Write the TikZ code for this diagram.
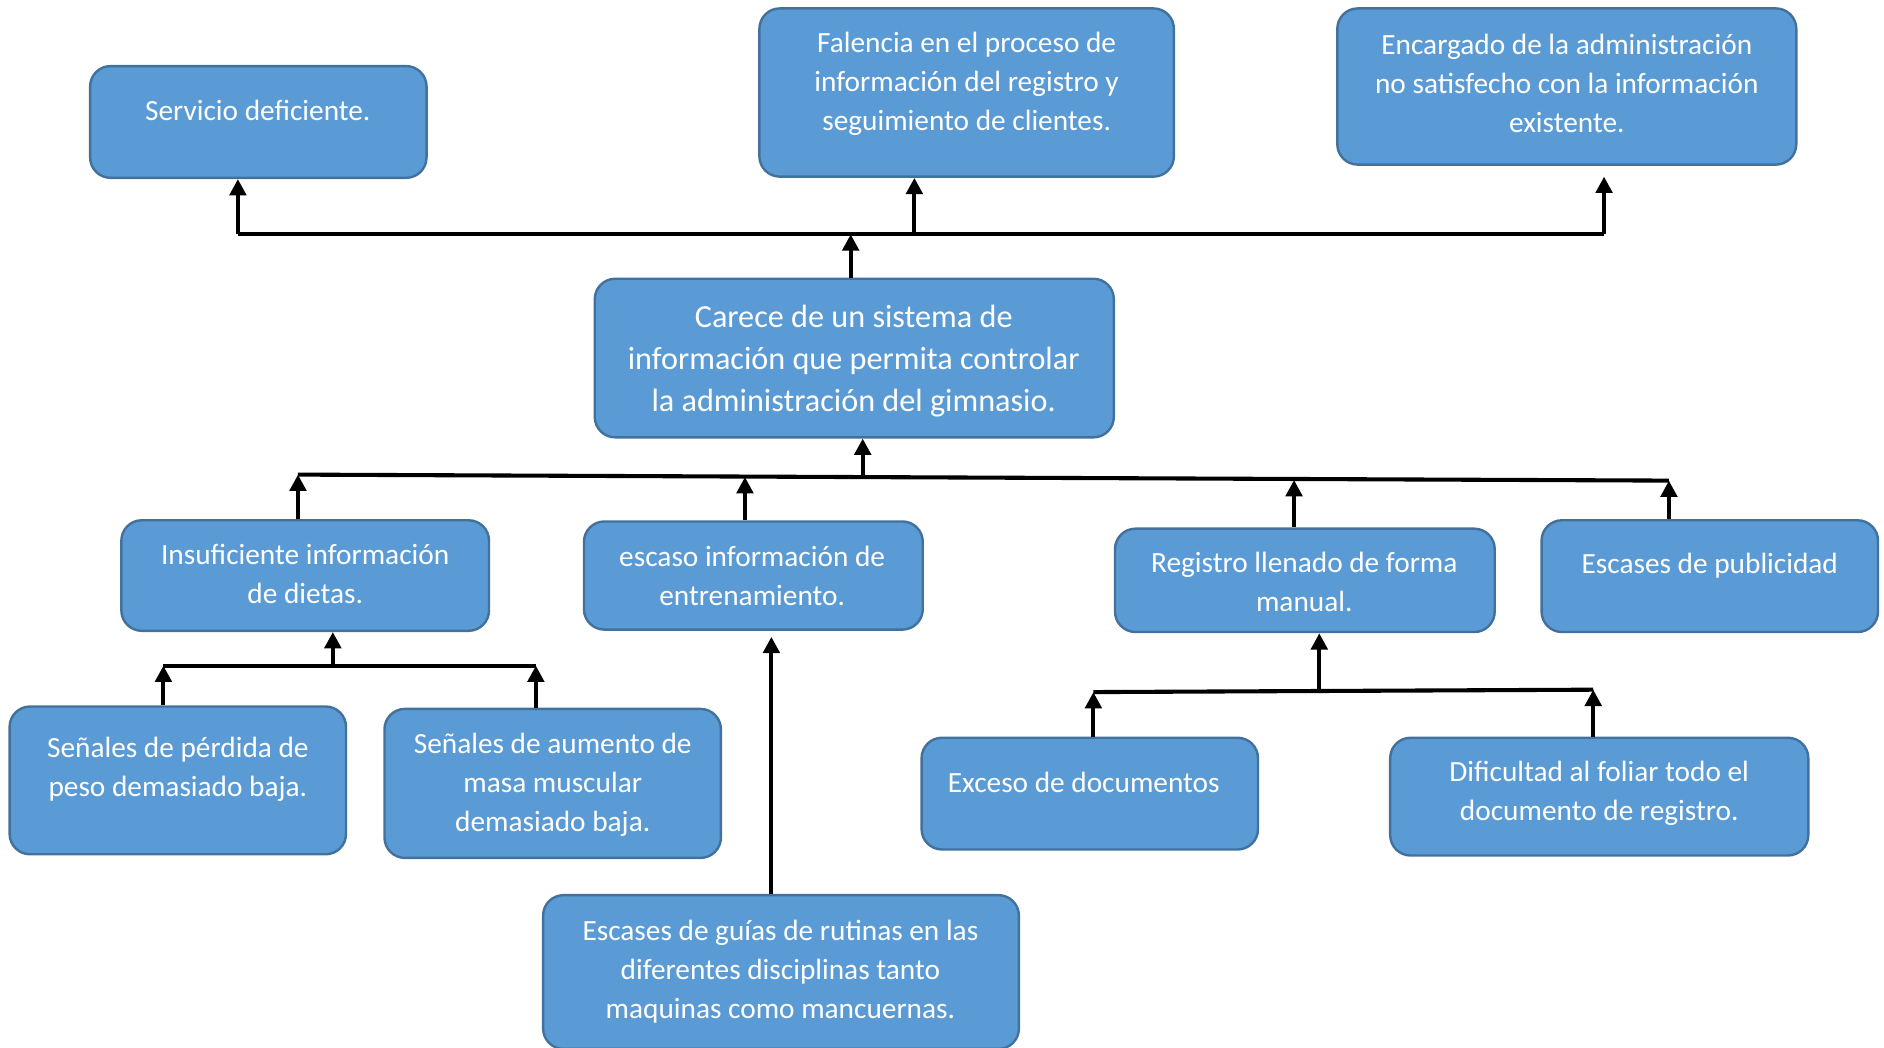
\documentclass[tikz,border=0pt]{standalone}
\usepackage{fontspec}
\setmainfont{Carlito}
\usetikzlibrary{arrows.meta}
\definecolor{boxfill}{HTML}{5B9BD5}
\definecolor{boxline}{HTML}{41719C}
\begin{document}
\begin{tikzpicture}[x=0.5pt,y=-0.5pt,
 box/.style={draw=boxline, fill=boxfill, line width=1pt, rounded corners=8.5pt, inner sep=0pt},
 txt/.style={text=white, align=center, font=\fontsize{12.2}{16.25}\selectfont, inner sep=0pt},
 bigtxt/.style={text=white, align=center, font=\fontsize{13.4}{17.5}\selectfont, inner sep=0pt},
 arr/.style={line width=1.7pt, -{Triangle[width=6.8pt,length=6.8pt]}},
 ln/.style={line width=1.7pt}]
\useasboundingbox (0,0) rectangle (1568,872);
% boxes
\node[box, minimum width=140pt, minimum height=46.5pt] (A) at (215,101.5) {};
\node[box, minimum width=172.5pt, minimum height=70pt] (B) at (804.5,77) {};
\node[box, minimum width=191pt, minimum height=65pt] (C) at (1304,72) {};
\node[box, minimum width=216pt, minimum height=66pt] (D) at (711,298) {};
\node[box, minimum width=153pt, minimum height=46pt] (E) at (254,479) {};
\node[box, minimum width=141pt, minimum height=45pt] (F) at (627,479) {};
\node[box, minimum width=158pt, minimum height=43pt] (G) at (1086,483) {};
\node[box, minimum width=140pt, minimum height=46.5pt] (H) at (1423,479.5) {};
\node[box, minimum width=140pt, minimum height=61.5pt] (I) at (148,649.5) {};
\node[box, minimum width=140pt, minimum height=62pt] (J) at (460,652) {};
\node[box, minimum width=140pt, minimum height=46.5pt] (K) at (907,660.5) {};
\node[box, minimum width=174pt, minimum height=49pt] (L) at (1331,663) {};
\node[box, minimum width=198pt, minimum height=64pt] (M) at (650,809) {};
% texts
\node[txt] (tA) at (214.5,91.5) {Servicio deficiente.};
\node[txt] (tB) at (804.5,70) {Falencia en el proceso de\\información del registro y\\seguimiento de clientes.};
\node[txt] (tC) at (1304,69.5) {Encargado de la administración\\no satisfecho con la información\\existente.};
\node[bigtxt] (tD) at (710.5,300.5) {Carece de un sistema de\\información que permita controlar\\la administración del gimnasio.};
\node[txt] (tE) at (254,478) {Insuficiente información\\de dietas.};
\node[txt] (tF) at (626,479.5) {escaso información de\\entrenamiento.};
\node[txt] (tG) at (1085.5,484.5) {Registro llenado de forma\\manual.};
\node[txt] (tH) at (1423,470.5) {Escases de publicidad};
\node[txt] (tI) at (148,640.5) {Señales de pérdida de\\peso demasiado baja.};
\node[txt] (tJ) at (460,653) {Señales de aumento de\\masa muscular\\demasiado baja.};
\node[txt] (tK) at (902,651.5) {Exceso de documentos};
\node[txt] (tL) at (1331,660.5) {Dificultad al foliar todo el\\documento de registro.};
\node[txt] (tM) at (649.5,808.5) {Escases de guías de rutinas en las\\diferentes disciplinas tanto\\maquinas como mancuernas.};
% top connectors
\coordinate (t1) at (198,195);
\coordinate (t2) at (761,195);
\coordinate (t3) at (1335,195);
\coordinate (tc) at (708,195);
\coordinate (c3) at (1335,147);
\draw[ln] (t1) -- (t3);
\draw[arr] (t1) -- (A.south -| t1);
\draw[arr] (t2) -- (B.south -| t2);
\draw[arr] (t3) -- (c3);
\draw[arr] (D.north -| tc) -- (tc);
% middle connectors
\coordinate (m1) at (248,395);
\coordinate (mc) at (718,397);
\coordinate (m2) at (620,397);
\coordinate (m3) at (1077,399.5);
\coordinate (m4) at (1389,400);
\draw[ln] (m1) -- (m4);
\draw[arr] (mc) -- (D.south -| mc);
\draw[arr] (E.north -| m1) -- (m1);
\draw[arr] (F.north -| m2) -- (m2);
\draw[arr] (G.north -| m3) -- (m3);
\draw[arr] (H.north -| m4) -- (m4);
% left bottom
\coordinate (l1) at (136,554);
\coordinate (l2) at (446,554);
\coordinate (lc) at (277,554);
\draw[ln] (l1) -- (l2);
\draw[arr] (lc) -- (E.south -| lc);
\draw[arr] (I.north -| l1) -- (l1);
\draw[arr] (J.north -| l2) -- (l2);
% M to F
\coordinate (f1) at (642,530);
\draw[arr] (M.north -| f1) -- (f1);
% right bottom
\coordinate (r1) at (910,576);
\coordinate (r2) at (1326,574);
\coordinate (rc) at (1098,575);
\draw[ln] (r1) -- (r2);
\draw[arr] (rc) -- (G.south -| rc);
\draw[arr] (K.north -| r1) -- (r1);
\draw[arr] (L.north -| r2) -- (r2);
\end{tikzpicture}
\end{document}
